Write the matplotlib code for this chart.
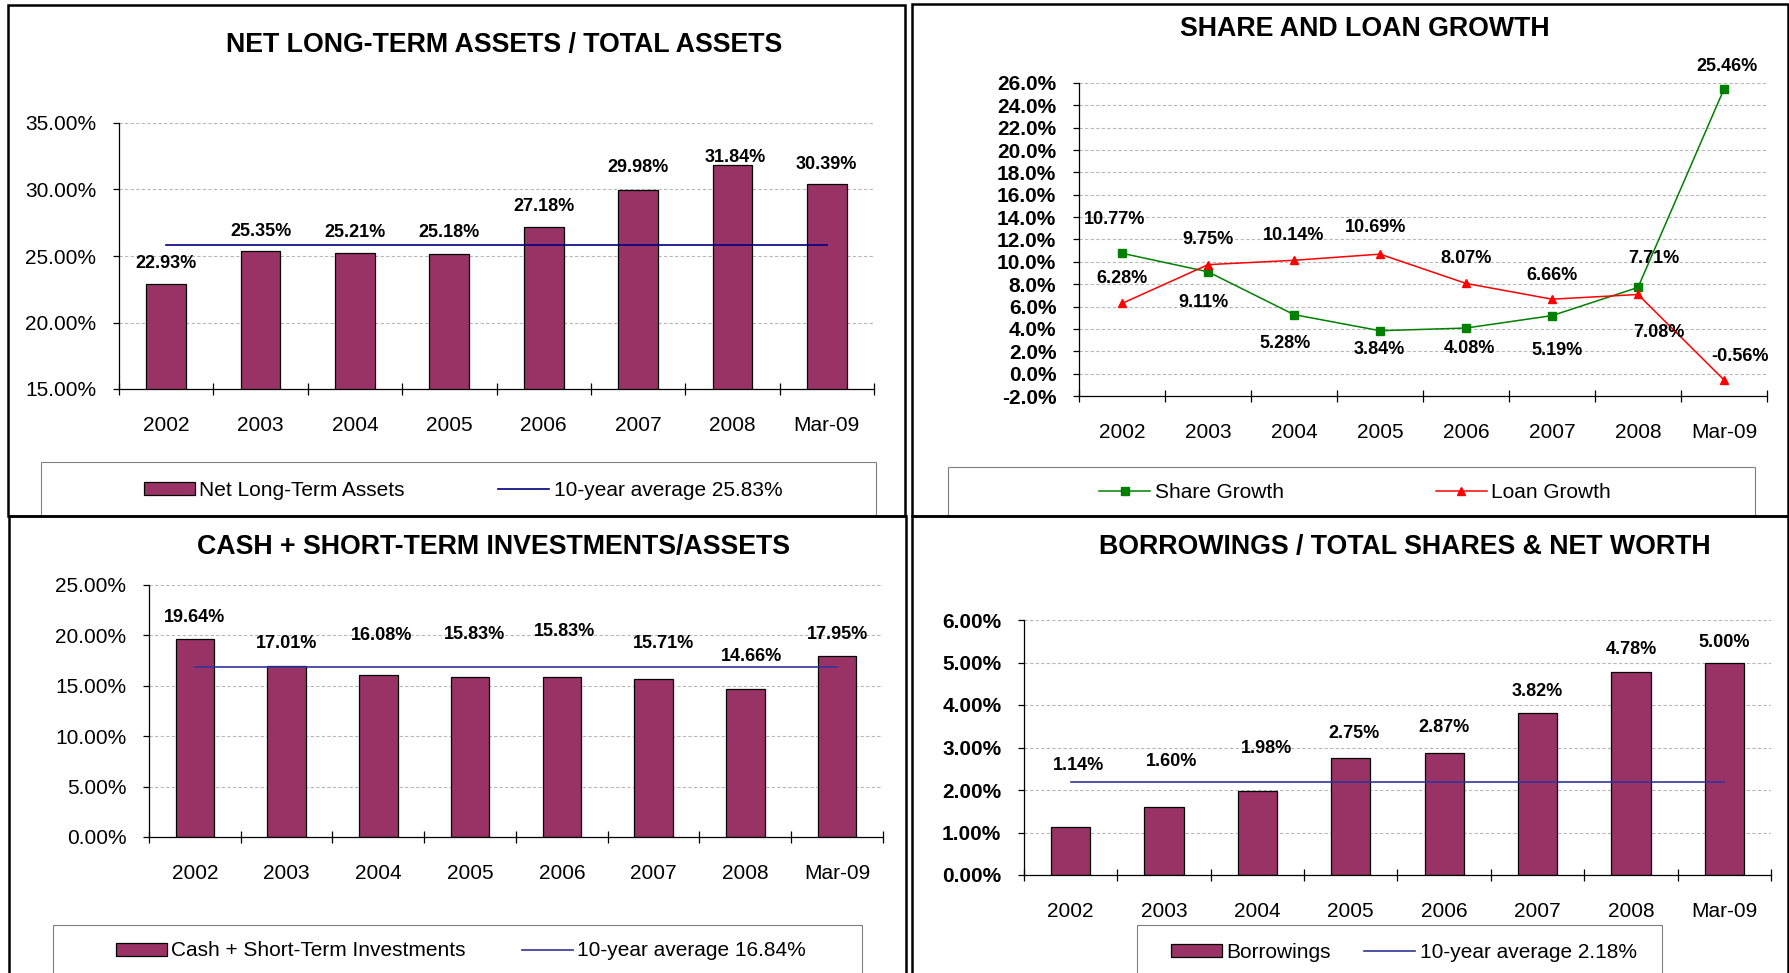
import numpy as np
import matplotlib
matplotlib.use('Agg')
import matplotlib.pyplot as plt
from matplotlib.patches import Rectangle
from matplotlib.ticker import FuncFormatter

plt.rcParams['font.family'] = ['Liberation Sans', 'DejaVu Sans']

W, H = 1790, 973

# data
years = ['2002', '2003', '2004', '2005', '2006', '2007', '2008', 'Mar-09']
net_long_term = [22.93, 25.35, 25.21, 25.18, 27.18, 29.98, 31.84, 30.39]
net_long_term_avg = 25.83
share_growth = [10.77, 9.11, 5.28, 3.84, 4.08, 5.19, 7.71, 25.46]
loan_growth = [6.28, 9.75, 10.14, 10.69, 8.07, 6.66, 7.08, -0.56]
cash_st = [19.64, 17.01, 16.08, 15.83, 15.83, 15.71, 14.66, 17.95]
cash_st_avg = 16.84
borrowings = [1.14, 1.60, 1.98, 2.75, 2.87, 3.82, 4.78, 5.00]
borrowings_avg = 2.18

# label nudges in pixels (dx, dy) from the data point
net_lbl_off = [(0, 20), (0, 20), (0, 21), (0, 21), (0, 21), (0, 22), (3, 8), (0, 20)]
share_lbl_off = [(-7, 34), (-4, -31), (-9, -29), (-1, -19), (3, -20), (5, -35), (16, 29), (3, 23)]
loan_lbl_off = [(0, 25), (0, 25), (0, 25), (-4, 27), (0, 25), (0, 24), (21, -38), (16, 23)]
cash_lbl_off = [(0, 22), (0, 22), (3, 39), (4, 43), (3, 46), (10, 35), (6, 33), (0, 22)]
borr_lbl_off = [(8, 61), (8, 45), (9, 42), (3, 25), (0, 26), (0, 21), (0, 22), (0, 20)]

BAR = '#993366'
x = np.arange(len(years))

fig = plt.figure(figsize=(W / 100, H / 100), dpi=100)


def add_axes(left, top, right, bottom):
    return fig.add_axes([left / W, 1 - bottom / H, (right - left) / W, (bottom - top) / H])


def fig_rect(left, top, right, bottom, **kw):
    r = Rectangle((left / W, 1 - bottom / H), (right - left) / W, (bottom - top) / H,
                  transform=fig.transFigure, **kw)
    fig.add_artist(r)


def style_axes(ax, lo, hi, step, fmt, bold):
    ax.set_xlim(-0.5, len(years) - 0.5)
    ax.set_ylim(lo, hi)
    ax.set_yticks(np.arange(lo, hi + step / 2, step))
    ax.yaxis.set_major_formatter(FuncFormatter(lambda v, p: fmt.format(v)))
    ax.set_xticks(np.arange(-0.5, len(years), 1))
    ax.set_xticklabels([])
    ax.set_xticks(x, minor=True)
    ax.set_xticklabels(years, minor=True)
    ax.tick_params(axis='x', which='major', direction='inout', length=8.6, width=0.9)
    ax.tick_params(axis='x', which='minor', length=0, pad=19.5, labelsize=15)
    ax.tick_params(axis='y', direction='out', length=4.3, width=0.9, pad=12, labelsize=15)
    if bold:
        plt.setp(ax.get_yticklabels(), fontweight='bold')
    ax.grid(axis='y', color='#b8b8b8', linestyle=(0, (3, 2)), linewidth=0.8)
    ax.set_axisbelow(True)
    for s in ['top', 'right']:
        ax.spines[s].set_visible(False)
    for s in ['left', 'bottom']:
        ax.spines[s].set_color('black')
        ax.spines[s].set_linewidth(0.9)


def labels(ax, vals, offs):
    for xi, v, (dx, dy) in zip(x, vals, offs):
        ax.annotate('{:.2f}%'.format(v), (xi, v), xytext=(dx, dy), textcoords='offset pixels',
                    ha='center', va='center', fontsize=13, fontweight='bold')


def bar_panel(ax, vals, avg, avg_color, bar_label, offs):
    bars = ax.bar(x, vals, width=0.42, color=BAR, edgecolor='black', linewidth=0.9, zorder=2)
    line, = ax.plot([x[0], x[-1]], [avg, avg], color=avg_color, lw=1.2, zorder=3)
    labels(ax, vals, offs)
    return [bars, line], [bar_label, '10-year average {:.2f}%'.format(avg)]


# panel 1
ax1 = add_axes(119, 123, 874, 389)
style_axes(ax1, 15, 35, 5, '{:.2f}%', False)
h1, l1 = bar_panel(ax1, net_long_term, net_long_term_avg, '#000080', 'Net Long-Term Assets', net_lbl_off)

# panel 2
ax2 = add_axes(1079, 83, 1767, 396)
style_axes(ax2, -2, 26, 2, '{:.1f}%', True)
sl, = ax2.plot(x, share_growth, color='#008000', lw=1.1, marker='s', ms=6, zorder=3)
ll, = ax2.plot(x, loan_growth, color='#ff0000', lw=1.1, marker='^', ms=5.5, zorder=3)
labels(ax2, share_growth, share_lbl_off)
labels(ax2, loan_growth, loan_lbl_off)

# panel 3
ax3 = add_axes(149, 585, 883, 837)
style_axes(ax3, 0, 25, 5, '{:.2f}%', False)
h3, l3 = bar_panel(ax3, cash_st, cash_st_avg, '#333399', 'Cash + Short-Term Investments', cash_lbl_off)

# panel 4
ax4 = add_axes(1024, 620, 1771, 875)
style_axes(ax4, 0, 6, 1, '{:.2f}%', True)
h4, l4 = bar_panel(ax4, borrowings, borrowings_avg, '#333399', 'Borrowings', borr_lbl_off)

# titles
tkw = dict(ha='center', va='center', fontsize=19.3, fontweight='bold')
fig.text(504 / W, 1 - 45 / H, 'NET LONG-TERM ASSETS / TOTAL ASSETS', **tkw)
fig.text(1365 / W, 1 - 29 / H, 'SHARE AND LOAN GROWTH', **tkw)
fig.text(494 / W, 1 - 547 / H, 'CASH + SHORT-TERM INVESTMENTS/ASSETS', **tkw)
fig.text(1405 / W, 1 - 547 / H, 'BORROWINGS / TOTAL SHARES & NET WORTH', **tkw)

# legend boxes
box = dict(facecolor='white', edgecolor='#808080', lw=0.8, zorder=2)
fig_rect(41, 462, 876, 516, **box)
fig_rect(948, 467, 1755, 516, **box)
fig_rect(53, 925, 862, 995, **box)
fig_rect(1137, 925, 1662, 995, **box)

lkw = dict(loc='center', ncol=2, frameon=False, fontsize=15, handlelength=2.45,
           handleheight=0.6, handletextpad=0.2, numpoints=1, borderpad=0)
fig.legend(h1, l1, bbox_to_anchor=(463 / W, 1 - 490 / H), columnspacing=4.5, **lkw)
fig.legend([sl, ll], ['Share Growth', 'Loan Growth'], bbox_to_anchor=(1355 / W, 1 - 492 / H),
           columnspacing=7.3, **lkw)
fig.legend(h3, l3, bbox_to_anchor=(461 / W, 1 - 951 / H), columnspacing=2.7, **lkw)
fig.legend(h4, l4, bbox_to_anchor=(1404 / W, 1 - 952 / H), columnspacing=1.6, **lkw)

# panel borders
brd = dict(fill=False, edgecolor='black', lw=1.8, zorder=10)
fig_rect(8, 5, 905, 516, **brd)
fig_rect(912, 4, 1788, 516, **brd)
fig_rect(9, 516, 906, 995, **brd)
fig_rect(912, 516, 1788, 995, **brd)

fig.savefig('out.png', dpi=100)
